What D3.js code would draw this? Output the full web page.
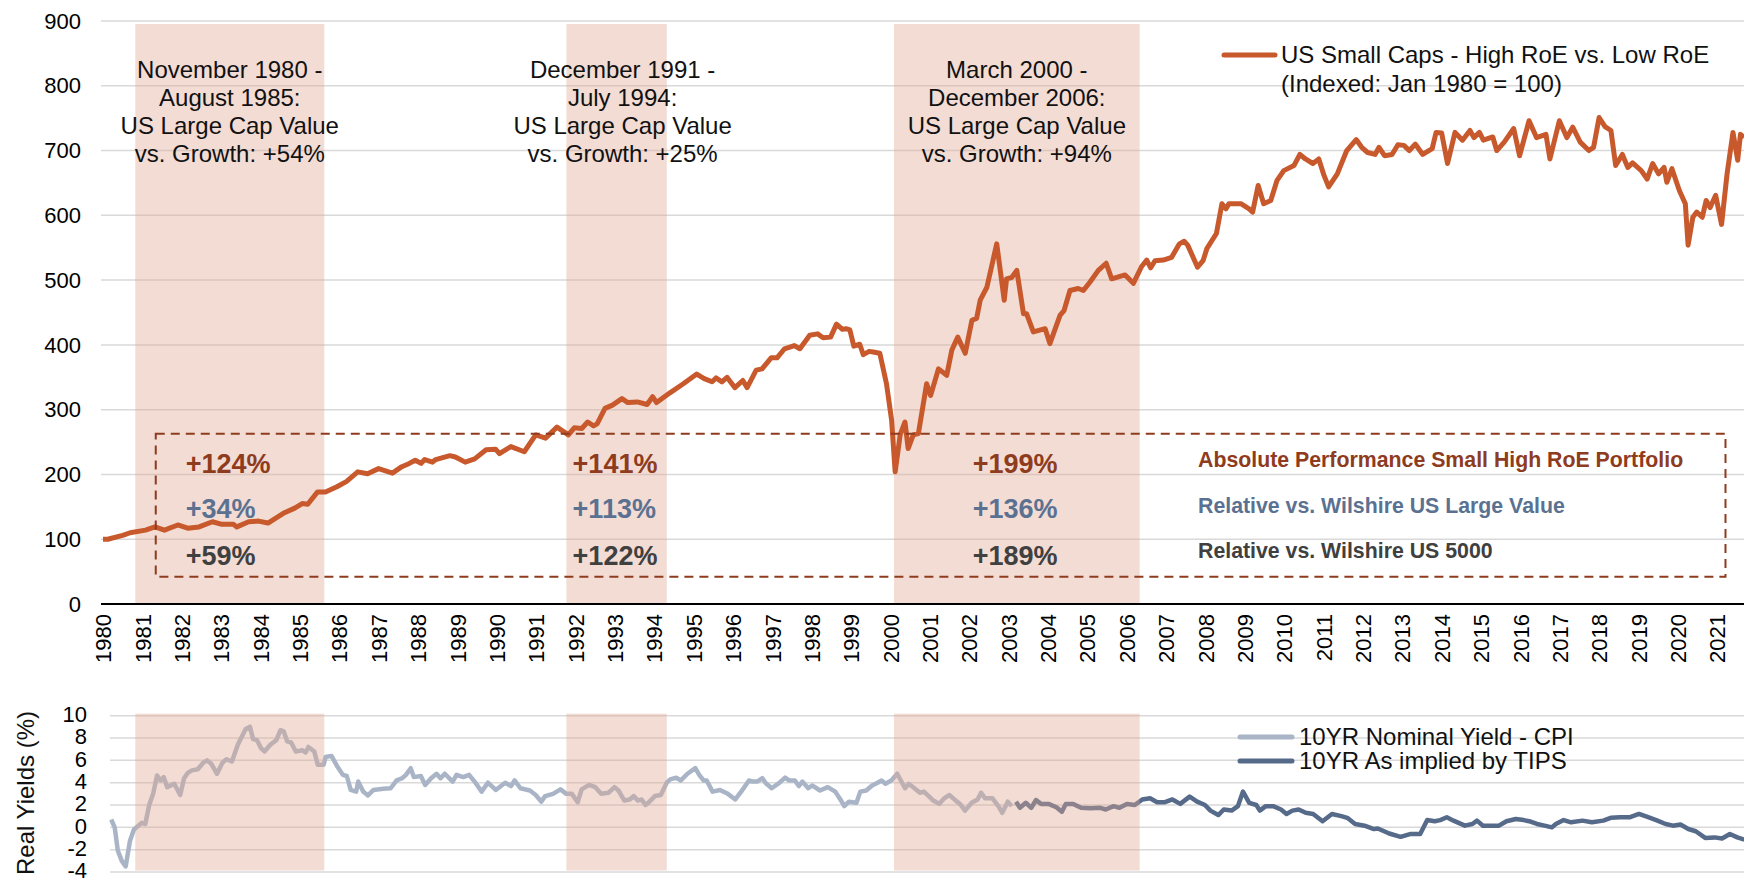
<!DOCTYPE html>
<head>
<meta charset="utf-8">
<style>
  body { margin: 0; background: #fff; }
  svg { display: block; font-family: "Liberation Sans", Arial, sans-serif; }
</style>
</head>
<body>
<svg width="1744" height="883" id="svgMain"></svg>
<script src="https://d3js.org/d3.v7.min.js"></script>
<script>
//-----------------------------------------------------
//              DATA
//-----------------------------------------------------
var years = d3.range(1980, 2022);
var topTicks = [0, 100, 200, 300, 400, 500, 600, 700, 800, 900];
var bottomTicks = [-4, -2, 0, 2, 4, 6, 8, 10];

// US Small Caps - High RoE vs. Low RoE (indexed Jan 1980 = 100)
var ratioDates = [1980.00,1980.12,1980.50,1980.69,1981.08,1981.32,1981.56,1981.90,1982.15,1982.44,1982.78,1983.02,1983.31,1983.40,1983.70,1983.95,
  1984.19,1984.58,1984.87,1985.06,1985.20,1985.45,1985.65,1985.94,1986.18,1986.47,1986.72,1987.00,1987.35,1987.59,1987.78,1987.93,
  1988.08,1988.17,1988.37,1988.45,1988.81,1988.95,1989.20,1989.44,1989.73,1989.97,1990.07,1990.36,1990.70,1990.99,1991.24,1991.53,
  1991.82,1991.97,1992.16,1992.31,1992.46,1992.55,1992.75,1992.94,1993.18,1993.33,1993.57,1993.82,1993.96,1994.06,1994.40,1994.74,
  1995.08,1995.27,1995.47,1995.57,1995.72,1995.85,1996.05,1996.25,1996.36,1996.59,1996.74,1996.97,1997.12,1997.31,1997.56,1997.70,
  1997.95,1998.15,1998.29,1998.48,1998.63,1998.78,1998.87,1998.97,1999.07,1999.22,1999.31,1999.46,1999.56,1999.73,1999.90,2000.03,
  2000.12,2000.25,2000.37,2000.45,2000.58,2000.71,2000.92,2001.02,2001.22,2001.43,2001.56,2001.71,2001.90,2002.07,2002.19,2002.28,
  2002.45,2002.70,2002.89,2002.95,2003.08,2003.21,2003.38,2003.46,2003.63,2003.93,2004.05,2004.31,2004.41,2004.56,2004.77,2004.90,
  2005.07,2005.28,2005.48,2005.62,2005.96,2006.17,2006.38,2006.51,2006.61,2006.72,2006.93,2007.14,2007.34,2007.46,2007.55,2007.80,
  2007.94,2008.04,2008.28,2008.42,2008.52,2008.60,2008.90,2009.11,2009.20,2009.34,2009.48,2009.66,2009.82,2009.99,2010.25,2010.40,
  2010.54,2010.73,2010.88,2011.01,2011.13,2011.35,2011.59,2011.83,2011.97,2012.12,2012.31,2012.41,2012.55,2012.74,2012.89,2013.04,
  2013.18,2013.33,2013.52,2013.76,2013.86,2014.00,2014.15,2014.34,2014.53,2014.72,2014.82,2014.96,2015.06,2015.30,2015.40,2015.59,
  2015.83,2015.98,2016.22,2016.41,2016.65,2016.75,2016.99,2017.18,2017.33,2017.52,2017.74,2017.86,2018.00,2018.15,2018.30,2018.42,
  2018.59,2018.73,2018.85,2019.07,2019.22,2019.36,2019.51,2019.65,2019.72,2019.85,2020.04,2020.19,2020.26,2020.38,2020.48,2020.62,
  2020.72,2020.82,2020.96,2021.11,2021.25,2021.40,2021.52,2021.59,2021.68];
var ratioValues = [100,100,106,110,114,119,114,122,117,119,127,123,123,119,127,128,
  125,140,148,155,154,173,173,181,189,204,201,209,202,212,217,222,
  217,223,219,223,229,227,219,224,238,239,232,243,235,261,256,273,
  261,272,271,281,275,278,302,307,317,311,312,308,320,311,326,340,
  355,348,343,349,343,350,334,345,334,361,363,380,380,394,399,394,
  415,417,411,412,432,424,425,423,398,401,385,390,389,387,340,284,
  204,262,281,240,261,263,340,322,363,353,392,412,387,438,441,469,
  489,556,469,502,504,515,448,448,420,425,402,446,453,484,487,484,
  497,515,526,502,508,495,521,531,519,530,531,535,556,560,554,520,
  530,549,572,618,610,618,618,610,605,646,618,623,654,669,677,694,
  687,680,687,662,644,664,700,717,705,697,694,705,692,694,709,708,
  700,710,694,703,728,727,680,728,716,731,720,728,716,721,700,713,
  734,692,746,720,725,687,746,720,736,713,700,705,751,737,731,677,
  694,674,681,669,656,680,664,674,651,672,638,618,554,597,605,597,
  623,612,631,586,664,728,685,725,720];

// 10YR Nominal Yield - CPI (%)
var cpiDates = [1980.03,1980.12,1980.20,1980.30,1980.40,1980.51,1980.61,1980.81,1980.90,1981.00,1981.10,1981.20,1981.29,1981.37,1981.46,1981.64,
  1981.79,1981.89,1981.99,1982.09,1982.24,1982.38,1982.48,1982.58,1982.73,1982.87,1982.97,1983.11,1983.26,1983.46,1983.57,1983.65,
  1983.75,1983.85,1983.94,1984.09,1984.24,1984.35,1984.43,1984.52,1984.62,1984.74,1984.91,1984.99,1985.06,1985.21,1985.30,1985.45,
  1985.50,1985.65,1985.79,1985.94,1986.04,1986.14,1986.28,1986.33,1986.46,1986.58,1986.72,1986.97,1987.16,1987.31,1987.45,1987.55,
  1987.67,1987.75,1987.93,1988.04,1988.19,1988.33,1988.43,1988.54,1988.74,1988.84,1989.01,1989.16,1989.30,1989.48,1989.64,1989.84,
  1990.08,1990.23,1990.32,1990.47,1990.71,1990.86,1991.00,1991.10,1991.30,1991.49,1991.64,1991.78,1991.93,1992.03,1992.22,1992.38,
  1992.53,1992.72,1992.87,1992.97,1993.12,1993.26,1993.36,1993.46,1993.56,1993.66,1993.76,1993.90,1994.05,1994.20,1994.29,1994.44,
  1994.56,1994.73,1994.93,1995.03,1995.14,1995.22,1995.37,1995.56,1995.76,1995.95,1996.10,1996.30,1996.39,1996.51,1996.64,1996.73,
  1996.88,1997.08,1997.22,1997.32,1997.47,1997.57,1997.66,1997.81,1997.91,1998.11,1998.31,1998.50,1998.63,1998.73,1998.85,1999.04,
  1999.14,1999.29,1999.44,1999.58,1999.68,1999.78,1999.93,2000.08,2000.28,2000.37,2000.52,2000.66,2000.76,2000.91,2001.00,2001.15,
  2001.28,2001.41,2001.54,2001.68,2001.81,2001.98,2002.13,2002.22,2002.32,2002.51,2002.66,2002.76,2002.90,2003.00];
var cpiValues = [0.7,0.0,-2.1,-3.0,-3.5,-1.2,-0.2,0.4,0.3,2.0,3.0,4.65,4.2,4.5,3.6,3.9,
  2.9,4.4,4.9,5.1,5.2,5.8,6.0,5.7,4.8,5.8,6.1,5.9,7.4,8.8,9.0,7.9,
  7.8,7.1,6.8,7.4,7.8,8.7,8.6,7.7,7.6,6.8,6.9,6.7,7.2,6.8,5.6,5.6,
  6.3,6.4,5.5,4.7,4.6,3.35,3.2,4.1,3.2,2.85,3.35,3.45,3.5,4.2,4.4,4.7,
  5.3,4.5,4.6,3.8,4.4,4.8,4.4,4.8,4.1,4.7,4.5,4.7,4.1,3.2,4.0,3.35,
  4.0,3.7,4.2,3.5,3.3,2.9,2.3,2.8,3.0,3.4,3.0,3.0,2.25,3.4,3.8,3.6,
  3.0,3.1,3.6,3.3,2.4,2.5,2.8,2.4,2.5,2.0,2.3,2.8,2.9,4.0,4.3,4.45,
  4.2,4.8,5.3,4.7,4.2,4.2,3.2,3.35,3.0,2.5,3.2,4.2,4.1,4.1,4.4,3.95,
  3.5,4.0,4.45,4.2,4.2,3.7,4.1,3.5,3.75,3.3,3.6,3.2,2.5,1.9,2.3,2.2,
  3.2,3.3,3.75,4.0,4.2,3.9,4.2,4.8,3.5,3.9,3.5,3.1,3.2,2.7,2.4,2.1,
  2.6,2.9,2.5,2.1,1.5,2.2,2.5,3.1,2.6,2.6,1.9,1.3,2.3,1.9];

// 10YR As implied by TIPS (%)
var tipsDates = [2003.11,2003.21,2003.36,2003.50,2003.62,2003.75,2003.94,2004.14,2004.28,2004.38,2004.57,2004.77,2005.01,2005.26,2005.40,2005.60,
  2005.75,2005.94,2006.14,2006.33,2006.53,2006.71,2006.91,2007.10,2007.30,2007.54,2007.73,2007.93,2008.07,2008.27,2008.41,2008.61,
  2008.77,2008.90,2009.06,2009.24,2009.33,2009.48,2009.67,2009.87,2010.01,2010.16,2010.32,2010.50,2010.69,2010.93,2011.17,2011.41,
  2011.56,2011.76,2012.00,2012.24,2012.34,2012.63,2012.92,2013.16,2013.42,2013.60,2013.79,2013.93,2014.10,2014.27,2014.56,2014.75,
  2014.87,2015.02,2015.24,2015.43,2015.62,2015.86,2016.06,2016.20,2016.40,2016.59,2016.78,2016.88,2017.08,2017.27,2017.56,2017.80,
  2018.09,2018.28,2018.52,2018.76,2019.00,2019.20,2019.44,2019.68,2019.87,2020.06,2020.26,2020.45,2020.69,2020.93,2021.12,2021.32,
  2021.51,2021.69];
var tipsValues = [2.3,1.75,2.2,1.75,2.45,2.1,2.1,1.8,1.4,2.1,2.1,1.75,1.7,1.75,1.6,1.9,
  1.75,2.1,2.0,2.5,2.6,2.25,2.25,2.5,2.1,2.75,2.3,2.0,1.5,1.1,1.6,1.5,
  1.9,3.2,2.2,2.0,1.5,1.9,1.9,1.6,1.2,1.5,1.6,1.3,1.2,0.55,1.2,1.0,
  0.85,0.3,0.15,-0.15,-0.1,-0.55,-0.85,-0.6,-0.6,0.65,0.55,0.65,0.9,0.6,0.15,0.3,
  0.6,0.15,0.15,0.15,0.55,0.75,0.65,0.55,0.3,0.15,0.0,0.3,0.65,0.45,0.6,0.45,
  0.6,0.85,0.9,0.9,1.2,0.95,0.65,0.3,0.15,0.25,-0.15,-0.35,-0.95,-0.9,-1.0,-0.6,
  -0.9,-1.1];

// value vs. growth periods (decimal years)
var periodStart = [1980.82, 1991.77, 2000.09];
var periodEnd = [1985.62, 1994.32, 2006.33];
var periodText = [
  ["November 1980 -", "August 1985:", "US Large Cap Value", "vs. Growth: +54%"],
  ["December 1991 -", "July 1994:", "US Large Cap Value", "vs. Growth: +25%"],
  ["March 2000 -", "December 2006:", "US Large Cap Value", "vs. Growth: +94%"]
];
var absPerf = ["+124%", "+141%", "+199%"];
var relLargeValue = ["+34%", "+113%", "+136%"];
var relWilshire = ["+59%", "+122%", "+189%"];
var rowLabels = ["Absolute Performance Small High RoE Portfolio", "Relative vs. Wilshire US Large Value", "Relative vs. Wilshire US 5000"];

//-----------------------------------------------------
//              SCALES
//-----------------------------------------------------
var svg = d3.select("svg");
var x = d3.scaleLinear().domain([1980, 2021.68]).range([103, 1744]);
var y = d3.scaleLinear().domain([0, 900]).range([604, 21]);
var xb = d3.scaleLinear().domain([1980, 2021.68]).range([110, 1744]);
var yb = d3.scaleLinear().domain([-4, 10]).range([872, 715.7]);

var orange = "#C8592C", brown = "#8E3B1E", blueText = "#5B7191", darkText = "#404040";
var shade = "#DEA893";

//-----------------------------------------------------
//              TOP CHART
//-----------------------------------------------------
var gTop = svg.append("g");

gTop.selectAll(".grid").data(topTicks.slice(1)).enter().append("line")
    .attr("x1", 101).attr("x2", 1744)
    .attr("y1", function(d) { return y(d); }).attr("y2", function(d) { return y(d); })
    .attr("stroke", "#D9D9D9").attr("stroke-width", 1.5);

gTop.selectAll(".shade").data(periodStart).enter().append("rect")
    .attr("x", function(d) { return x(d); })
    .attr("width", function(d, i) { return x(periodEnd[i]) - x(d); })
    .attr("y", y(900) + 3)
    .attr("height", y(0) - y(900) - 3)
    .attr("fill", shade).attr("fill-opacity", 0.4);

gTop.selectAll(".ytick").data(topTicks).enter().append("text")
    .attr("x", 81).attr("y", function(d) { return y(d); })
    .attr("dy", "0.35em").attr("text-anchor", "end")
    .style("font-size", "22px").attr("fill", "#000")
    .text(function(d) { return d; });

var xAxis = gTop.append("g")
    .attr("transform", "translate(0," + y(0) + ")")
    .call(d3.axisBottom(x).tickValues(years).tickSize(0).tickPadding(0).tickFormat(d3.format("d")));
xAxis.select(".domain").remove();
xAxis.selectAll("text")
    .attr("transform", "rotate(-90)")
    .attr("x", -10).attr("y", 0).attr("dy", "0.35em")
    .attr("text-anchor", "end")
    .style("font-size", "22px").style("font-family", "Liberation Sans, Arial, sans-serif")
    .attr("fill", "#000");

gTop.append("line")
    .attr("x1", 101).attr("x2", 1744).attr("y1", y(0)).attr("y2", y(0))
    .attr("stroke", "#000").attr("stroke-width", 2.2);

var line = d3.line()
    .x(function(d) { return x(d[0]); })
    .y(function(d) { return y(d[1]); });

gTop.append("path")
    .datum(d3.zip(ratioDates, ratioValues))
    .attr("d", line)
    .attr("fill", "none").attr("stroke", orange)
    .attr("stroke-width", 5).attr("stroke-linejoin", "round");

// period annotations (second text block sits a little right of its band)
var labelNudge = [0, 6, 0];
periodText.forEach(function(lines, i) {
  var cx = x((periodStart[i] + periodEnd[i]) / 2) + labelNudge[i];
  gTop.append("g").selectAll("text").data(lines).enter().append("text")
      .attr("x", cx).attr("y", function(d, j) { return 77.5 + j * 28.3; })
      .attr("text-anchor", "middle")
      .style("font-size", "24px").attr("fill", "#111")
      .text(function(d) { return d; });
});

// dashed performance box
var boxL = x(1981.34), boxR = x(2021.21), boxT = y(263), boxB = y(42);
gTop.append("rect")
    .attr("x", boxL).attr("y", boxT)
    .attr("width", boxR - boxL).attr("height", boxB - boxT)
    .attr("fill", "none").attr("stroke", brown)
    .attr("stroke-width", 2).attr("stroke-dasharray", "9,6");

var rows = [absPerf, relLargeValue, relWilshire];
var rowColors = [brown, blueText, darkText];
var rowBase = [39.5, 84.5, 131];
rows.forEach(function(vals, r) {
  gTop.append("g").selectAll("text").data(vals).enter().append("text")
      .attr("x", function(d, i) { return x((periodStart[i] + periodEnd[i]) / 2) - 44; })
      .attr("y", boxT + rowBase[r])
      .style("font-size", "27px").style("font-weight", "bold")
      .attr("fill", rowColors[r])
      .text(function(d) { return d; });
});

gTop.selectAll(".rowlabel").data(rowLabels).enter().append("text")
    .attr("x", 1198)
    .attr("y", function(d, i) { return boxT + [33.5, 79, 124.5][i]; })
    .style("font-size", "21.3px").style("font-weight", "bold")
    .attr("fill", function(d, i) { return rowColors[i]; })
    .text(function(d) { return d; });

// legend
gTop.append("line")
    .attr("x1", 1224).attr("x2", 1275).attr("y1", 55).attr("y2", 55)
    .attr("stroke", orange).attr("stroke-width", 5).attr("stroke-linecap", "round");
gTop.append("text").attr("x", 1281).attr("y", 63)
    .style("font-size", "24px").attr("fill", "#111")
    .text("US Small Caps - High RoE vs. Low RoE");
gTop.append("text").attr("x", 1281).attr("y", 92)
    .style("font-size", "24px").attr("fill", "#111")
    .text("(Indexed: Jan 1980 = 100)");

//-----------------------------------------------------
//              BOTTOM CHART (REAL YIELDS)
//-----------------------------------------------------
var gBot = svg.append("g");

gBot.selectAll(".grid").data(bottomTicks).enter().append("line")
    .attr("x1", 110).attr("x2", 1744)
    .attr("y1", function(d) { return yb(d); }).attr("y2", function(d) { return yb(d); })
    .attr("stroke", "#D9D9D9").attr("stroke-width", 1.5);

gBot.selectAll(".ytick").data(bottomTicks).enter().append("text")
    .attr("x", 87).attr("y", function(d) { return yb(d); })
    .attr("dy", "0.28em").attr("text-anchor", "end")
    .style("font-size", "22px").attr("fill", "#000")
    .text(function(d) { return d; });

gBot.append("text")
    .attr("transform", "translate(34,793) rotate(-90)")
    .attr("text-anchor", "middle")
    .style("font-size", "24px").attr("fill", "#111")
    .text("Real Yields (%)");

var lineB = d3.line()
    .x(function(d) { return xb(d[0]); })
    .y(function(d) { return yb(d[1]); });

gBot.append("path")
    .datum(d3.zip(cpiDates, cpiValues))
    .attr("d", lineB)
    .attr("fill", "none").attr("stroke", "#A9B5C7")
    .attr("stroke-width", 4.5).attr("stroke-linejoin", "round");

gBot.append("path")
    .datum(d3.zip(tipsDates, tipsValues))
    .attr("d", lineB)
    .attr("fill", "none").attr("stroke", "#566A89")
    .attr("stroke-width", 4.5).attr("stroke-linejoin", "round");

gBot.selectAll(".shade").data(periodStart).enter().append("rect")
    .attr("x", function(d) { return x(d); })
    .attr("width", function(d, i) { return x(periodEnd[i]) - x(d); })
    .attr("y", yb(10) - 2)
    .attr("height", yb(-4) - yb(10) + 0.5)
    .attr("fill", shade).attr("fill-opacity", 0.4);

// legend
var botLegend = [["10YR Nominal Yield - CPI", "#A9B5C7"], ["10YR As implied by TIPS", "#566A89"]];
botLegend.forEach(function(d, i) {
  gBot.append("line")
      .attr("x1", 1240).attr("x2", 1292)
      .attr("y1", 737 + i * 24).attr("y2", 737 + i * 24)
      .attr("stroke", d[1]).attr("stroke-width", 5).attr("stroke-linecap", "round");
  gBot.append("text")
      .attr("x", 1299).attr("y", 745 + i * 24)
      .style("font-size", "24px").attr("fill", "#111")
      .text(d[0]);
});
</script>
</body>
